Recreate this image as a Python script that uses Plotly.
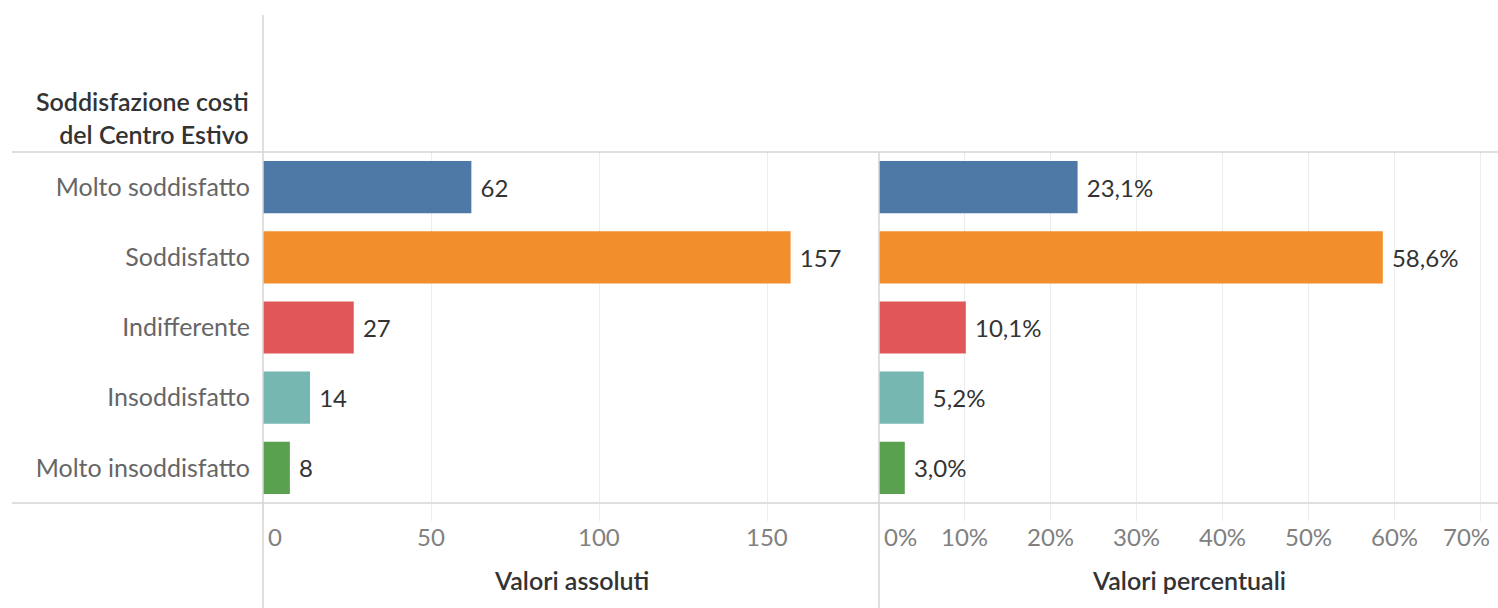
import plotly.graph_objects as go

# ---- data ----
categories = ["Molto soddisfatto", "Soddisfatto", "Indifferente", "Insoddisfatto", "Molto insoddisfatto"]
valori_assoluti = [62, 157, 27, 14, 8]
valori_percentuali = [0.231, 0.586, 0.101, 0.052, 0.030]
colors = ["#4E79A7", "#F28E2B", "#E15759", "#76B7B2", "#59A14F"]
ticks_abs = [0, 50, 100, 150]
ticks_pct = [0, 0.1, 0.2, 0.3, 0.4, 0.5, 0.6, 0.7]
header_title = "Soddisfazione costi<br>del Centro Estivo"
title_abs = "Valori assoluti"
title_pct = "Valori percentuali"

W, H = 1498, 608
FONT = "Lato"
LINE = "#d4d4d4"
GRID = "#ececec"

def px_x(p):
    return p / W

def px_y(p):
    return 1 - p / H

x_left0, x_split, x_right1 = 263, 879, 1498
y_top, y_bot = 152, 503

fig = go.Figure()
fig.add_trace(go.Bar(
    y=categories, x=valori_assoluti, orientation="h",
    marker=dict(color=colors, line=dict(width=0)),
    texttemplate="\u00a0%{x}", textposition="outside",
    textfont=dict(family=FONT, size=24, color="#333333"),
    cliponaxis=False, xaxis="x", yaxis="y", showlegend=False, hoverinfo="skip",
))
fig.add_trace(go.Bar(
    y=categories, x=valori_percentuali, orientation="h",
    marker=dict(color=colors, line=dict(width=0)),
    texttemplate="\u00a0%{x:.1%}", textposition="outside",
    textfont=dict(family=FONT, size=24, color="#333333"),
    cliponaxis=False, xaxis="x2", yaxis="y2", showlegend=False, hoverinfo="skip",
))

ydom = [px_y(y_bot), px_y(y_top)]
fig.update_layout(
    width=W, height=H,
    margin=dict(l=0, r=0, t=0, b=0),
    paper_bgcolor="white", plot_bgcolor="white",
    separators=",.",
    bargap=0.257,
    font=dict(family=FONT, color="#555555"),
    xaxis=dict(domain=[px_x(x_left0), px_x(x_split)], range=[0, 183.3],
               tickvals=ticks_abs, showticklabels=False,
               showgrid=True, gridcolor=GRID, gridwidth=1, zeroline=False,
               ticks="outside", ticklen=17, tickcolor=GRID, showline=False, fixedrange=True),
    xaxis2=dict(domain=[px_x(x_split), 1.0], range=[0, 0.72],
                tickvals=ticks_pct, showticklabels=False,
                showgrid=True, gridcolor=GRID, gridwidth=1, zeroline=False,
                ticks="outside", ticklen=17, tickcolor=GRID, showline=False, fixedrange=True),
    yaxis=dict(domain=ydom, anchor="x", type="category", autorange="reversed",
               showgrid=False, zeroline=False, ticks="", ticklabelstandoff=12,
               tickfont=dict(family=FONT, size=25, color="#666666"), fixedrange=True),
    yaxis2=dict(domain=ydom, anchor="x2", type="category", autorange="reversed",
                showgrid=False, zeroline=False, showticklabels=False, ticks="", fixedrange=True),
)

annotations = []
tick_y = px_y(536)
for i, v in enumerate(ticks_abs):
    anchor = "left" if i == 0 else "center"
    annotations.append(dict(x=v, y=tick_y, xref="x", yref="paper", text=f"{v}",
                            showarrow=False, xanchor=anchor, yanchor="middle",
                            xshift=3 if i == 0 else 0,
                            font=dict(family=FONT, size=24, color="#808080")))
for i, v in enumerate(ticks_pct):
    if i == 0:
        anchor, shift = "left", 3
    elif i == len(ticks_pct) - 1:
        anchor, shift = "right", 11
    else:
        anchor, shift = "center", 0
    annotations.append(dict(x=v, y=tick_y, xref="x2", yref="paper", text=f"{round(v*100)}%",
                            showarrow=False, xanchor=anchor, yanchor="middle", xshift=shift,
                            font=dict(family=FONT, size=24, color="#808080")))
annotations.append(dict(x=0.5, y=px_y(580), xref="x domain", yref="paper", text=title_abs,
                        showarrow=False, xanchor="center", yanchor="middle",
                        font=dict(family=FONT, size=25, color="#333333", weight=600)))
annotations.append(dict(x=0.5, y=px_y(580), xref="x2 domain", yref="paper", text=title_pct,
                        showarrow=False, xanchor="center", yanchor="middle",
                        font=dict(family=FONT, size=25, color="#333333", weight=600)))
annotations.append(dict(x=px_x(251), y=px_y(117), xref="paper", yref="paper", text=header_title,
                        showarrow=False, xanchor="right", yanchor="middle", align="right",
                        font=dict(family=FONT, size=25, color="#333333", weight=600)))
fig.update_layout(annotations=annotations)

shapes = [
    dict(type="line", xref="paper", yref="paper", x0=px_x(x_left0), x1=px_x(x_left0),
         y0=px_y(15), y1=0, line=dict(color=LINE, width=1.5)),
    dict(type="line", xref="paper", yref="paper", x0=px_x(x_split), x1=px_x(x_split),
         y0=px_y(y_top), y1=0, line=dict(color=LINE, width=1.5)),
    dict(type="line", xref="paper", yref="paper", x0=px_x(12), x1=1,
         y0=px_y(y_top), y1=px_y(y_top), line=dict(color=LINE, width=1.5)),
    dict(type="line", xref="paper", yref="paper", x0=px_x(12), x1=1,
         y0=px_y(y_bot), y1=px_y(y_bot), line=dict(color=LINE, width=1.5)),
]
fig.update_layout(shapes=shapes)

fig.write_html("out.html", config={"displayModeBar": False},
               post_script="document.body.style.margin='0';document.body.style.overflow='hidden';")
